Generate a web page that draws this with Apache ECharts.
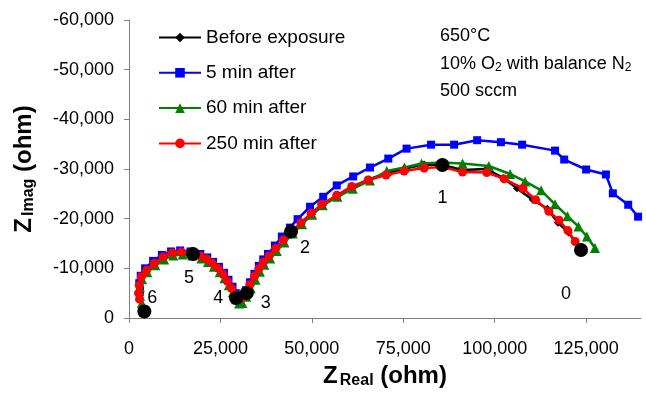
<!DOCTYPE html>
<html>
<head>
<meta charset="utf-8">
<script src="https://cdn.jsdelivr.net/npm/echarts@6/dist/echarts.min.js"></script>
<style>
html,body{margin:0;padding:0;background:#fff;}
#chart{width:646px;height:394px;}
</style>
</head>
<body>
<div id="chart"></div>
<script>
// Series data: [Z_Real (ohm), Z_Imag (ohm)]
const seriesNames = ['Before exposure', '5 min after', '60 min after', '250 min after'];

const beforeExposure = [[4200,-1300],[3000,-4500],[3000,-6500],[3600,-8300],[5000,-9800],[7200,-11200],[9600,-12400],[12000,-13100],[14600,-13300],[17500,-12900],[19800,-12400],[21500,-11700],[23000,-10800],[24600,-9700],[25900,-8500],[27100,-7100],[28100,-5800],[29300,-4000],[30500,-3800],[32200,-5000],[33300,-6600],[34500,-8300],[35700,-9800],[36900,-11100],[38500,-12400],[40300,-13900],[42300,-15600],[44300,-17400],[47200,-19000],[50000,-20900],[53000,-22700],[57000,-24600],[61200,-26400],[65600,-27900],[70500,-29200],[75400,-30100],[80700,-30900],[85700,-30800],[91200,-29800],[97800,-30000],[102300,-28200],[106100,-26100],[110400,-23800],[114400,-22000],[117300,-19200],[120200,-17200],[123600,-13700]];

const after5min = [[3000,-5500],[2800,-7000],[3200,-8500],[4400,-10000],[6600,-11500],[9000,-12700],[11500,-13400],[14000,-13600],[16800,-13400],[19500,-12900],[21400,-12200],[23000,-11300],[24600,-10300],[26000,-9100],[27200,-7700],[28300,-6300],[29200,-5000],[30100,-4300],[31000,-4500],[32000,-5600],[33100,-7200],[34300,-8900],[35500,-10500],[36700,-11800],[38000,-12900],[39900,-14600],[41800,-16400],[44000,-18200],[46100,-19900],[49500,-22400],[53100,-24400],[56800,-26700],[61300,-28500],[65900,-30300],[70900,-32100],[75900,-34100],[82600,-34900],[88900,-34900],[95200,-35800],[101700,-35400],[107500,-34900],[116500,-33700],[119000,-31900],[125000,-29900],[130400,-28900],[132300,-25100],[136500,-22800],[139200,-20400]];

const after60min = [[3500,-3000],[3000,-4500],[3000,-6200],[3600,-7800],[5000,-9200],[7200,-10600],[9600,-11800],[12100,-12600],[14700,-12800],[17300,-12600],[19800,-12000],[21600,-11300],[23200,-10300],[24800,-9200],[26100,-8000],[27300,-6600],[28400,-5200],[29300,-3800],[30100,-2900],[31000,-3000],[32100,-4300],[33300,-6000],[34600,-7700],[35800,-9300],[37000,-10700],[38600,-12000],[40400,-13500],[42500,-15200],[44800,-17000],[47300,-18900],[50100,-20800],[53000,-22700],[57000,-24400],[61200,-26000],[65900,-27700],[70500,-29600],[75300,-30300],[80000,-31100],[85600,-31300],[91200,-31100],[98400,-30600],[104200,-29000],[108300,-27500],[112700,-25700],[116500,-22900],[119900,-20500],[122900,-18400],[125200,-16400],[127400,-14100]];

const after250min = [[2900,-3800],[2600,-5000],[2800,-6600],[3400,-8300],[4800,-9600],[6900,-11000],[9300,-12300],[11800,-13100],[14300,-13300],[17000,-13000],[19500,-12500],[21200,-11900],[22800,-11000],[24400,-10000],[25700,-8800],[26900,-7400],[28000,-6000],[28900,-4800],[29800,-4000],[30800,-4000],[31800,-5000],[33000,-6700],[34300,-8400],[35500,-9900],[36700,-11200],[38300,-12500],[40100,-14000],[42200,-15700],[44500,-17400],[47000,-19200],[49800,-21100],[52700,-22900],[56800,-24700],[60900,-26500],[65400,-27800],[70300,-28800],[75200,-29600],[80700,-30200],[85700,-30400],[91200,-29400],[97800,-29300],[102600,-28000],[107700,-26100],[111200,-23800],[114800,-21500],[117600,-19700],[120000,-17600],[122000,-15400]];

// Frequency decade markers (labels 0..6)
const decadeLabels = ['0','1','2','3','4','5','6'];
const decadePoints = [[123600,-13700],[85700,-30800],[44300,-17400],[32200,-5000],[29300,-4000],[17500,-12900],[4200,-1300]];
const decadeLabelOffsets = [[-15,44],[0,33],[14,16],[19,10],[-18,0],[-4,24],[8,-14]];

// Axis ticks
const xTicks = [0, 25000, 50000, 75000, 100000, 125000];
const yTicks = [-60000, -50000, -40000, -30000, -20000, -10000, 0];

const FONT = 'Liberation Sans, Arial, sans-serif';
const chart = echarts.init(document.getElementById('chart'), null, {renderer: 'canvas'});

const colors = ['#000000', '#0000ff', '#008000', '#ff0000'];
const symbols = ['diamond', 'rect', 'triangle', 'circle'];
const sizes = [8, 8, 10, 9];
const datas = [beforeExposure, after5min, after60min, after250min];

const lineSeries = seriesNames.map((n, i) => ({
  name: n,
  type: 'line',
  data: datas[i],
  symbol: symbols[i],
  symbolSize: sizes[i],
  showAllSymbol: true,
  color: colors[i],
  itemStyle: {color: colors[i], opacity: 1},
  lineStyle: {color: colors[i], width: 2.5},
  z: 2 + i,
  animation: false
}));

const markerSeries = {
  name: 'decades',
  type: 'scatter',
  symbol: 'circle',
  symbolSize: 14,
  itemStyle: {color: '#000', opacity: 1},
  z: 10,
  animation: false,
  data: decadePoints.map((p, i) => ({
    value: p,
    label: {
      show: true,
      formatter: decadeLabels[i],
      position: 'inside',
      offset: decadeLabelOffsets[i],
      color: '#000',
      opacity: 1,
      fontSize: 18,
      fontFamily: FONT
    }
  }))
};

const fmt = v => Number(v).toLocaleString('en-US');

chart.setOption({
  backgroundColor: '#fff',
  animation: false,
  textStyle: {fontFamily: FONT},
  grid: {left: 129, right: 5, top: 20, bottom: 71, containLabel: false},
  legend: {
    data: seriesNames,
    orient: 'vertical',
    left: 158,
    top: 28,
    padding: 0,
    itemWidth: 42,
    itemHeight: 12,
    itemGap: 16.3,
    textStyle: {fontSize: 19, color: '#000', fontFamily: FONT},
    selectedMode: false
  },
  xAxis: {
    type: 'value',
    min: 0,
    max: 140000,
    interval: 25000,
    splitLine: {show: false},
    axisLine: {lineStyle: {color: '#808080', width: 1}},
    axisTick: {show: true, length: 5, lineStyle: {color: '#808080'}, customValues: xTicks},
    axisLabel: {color: '#000', fontSize: 18, fontFamily: FONT, margin: 22, customValues: xTicks, formatter: fmt},
    name: '{z|Z}{s|Real}{o| (ohm)}',
    nameLocation: 'middle',
    nameGap: 45,
    nameTextStyle: {
      rich: {
        z: {fontSize: 24, fontWeight: 'bold', color: '#000', fontFamily: FONT},
        s: {fontSize: 16, fontWeight: 'bold', color: '#000', fontFamily: FONT, padding: [10, 0, 0, 2]},
        o: {fontSize: 24, fontWeight: 'bold', color: '#000', fontFamily: FONT}
      }
    }
  },
  yAxis: {
    type: 'value',
    min: -60000,
    max: 0,
    interval: 10000,
    inverse: true,
    splitLine: {show: false},
    axisLine: {show: true, lineStyle: {color: '#808080', width: 1}},
    axisTick: {show: true, length: 5, lineStyle: {color: '#808080'}},
    axisLabel: {color: '#000', fontSize: 18, fontFamily: FONT, margin: 15, formatter: fmt},
    name: '{z|Z}{s|Imag}{o| (ohm)}',
    nameLocation: 'middle',
    nameRotate: 90,
    nameGap: 92,
    nameTextStyle: {
      rich: {
        z: {fontSize: 24, fontWeight: 'bold', color: '#000', fontFamily: FONT},
        s: {fontSize: 16, fontWeight: 'bold', color: '#000', fontFamily: FONT, padding: [10, 0, 0, 2]},
        o: {fontSize: 24, fontWeight: 'bold', color: '#000', fontFamily: FONT}
      }
    }
  },
  graphic: [
    {type: 'text', left: 440, top: 27, style: {text: '650°C', fontSize: 18, fontFamily: FONT, fill: '#000'}},
    {type: 'text', left: 440, top: 55, style: {
      text: '10% O{sub|2} with balance N{sub|2}', fontSize: 18, fontFamily: FONT, fill: '#000',
      rich: {sub: {fontSize: 12, fontFamily: FONT, padding: [8, 0, 0, 0]}}
    }},
    {type: 'text', left: 440, top: 82, style: {text: '500 sccm', fontSize: 18, fontFamily: FONT, fill: '#000'}}
  ],
  series: lineSeries.concat([markerSeries])
});
</script>
</body>
</html>
